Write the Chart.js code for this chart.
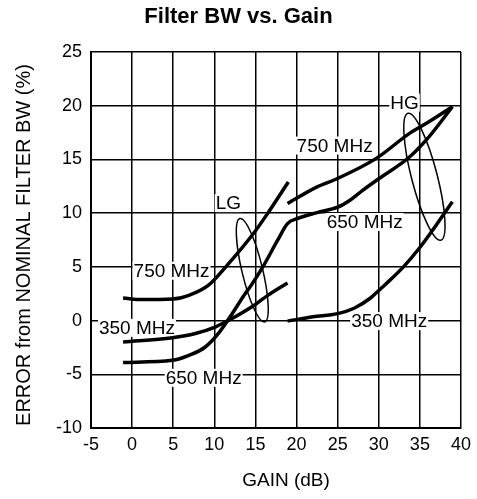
<!DOCTYPE html>
<html>
<head>
<meta charset="utf-8">
<script src="https://cdn.jsdelivr.net/npm/chart.js@4.4.0/dist/chart.umd.min.js"></script>
<style>
html,body{margin:0;padding:0;background:#fff;}
#c{display:block;}
</style>
</head>
<body>
<canvas id="c" width="477" height="499"></canvas>
<script>
// ---- data ----
const lg750X = [-1.1, 1.3, 4.9, 6.9, 9.3, 11.5, 14.9, 16.5, 19.0];
const lg750Y = [2.1, 1.95, 2.0, 2.35, 3.3, 5.1, 8.25, 10.0, 12.9];

const lg350X = [-1.1, 4.9, 7.7, 10.1, 11.7, 14.9, 16.5, 18.9];
const lg350Y = [-2.0, -1.6, -1.2, -0.6, 0.0, 1.45, 2.35, 3.5];

const bw650X = [-1.1, 4.9, 6.9, 8.9, 10.5, 11.9, 13.7, 14.5, 15.9, 17.7, 18.9, 20.1, 22.5, 25.0, 26.5, 28.0, 30.0, 33.7, 36.1, 38.95];
const bw650Y = [-3.9, -3.7, -3.24, -2.46, -1.2, 0.33, 2.45, 3.3, 5.0, 7.48, 9.03, 9.5, 10.05, 10.55, 11.2, 12.1, 13.2, 15.2, 17.1, 19.9];

const hg750X = [18.9, 22.5, 24.9, 29.7, 33.7, 36.1, 38.95];
const hg750Y = [10.9, 12.45, 13.2, 15.1, 17.4, 18.5, 19.9];

const hg350X = [18.9, 22.0, 25.0, 27.0, 29.0, 30.0, 31.0, 33.0, 35.0, 37.0, 38.95];
const hg350Y = [-0.05, 0.35, 0.65, 1.15, 2.1, 2.8, 3.5, 5.0, 6.8, 8.9, 11.05];

const xTicksMin = -5, xTicksMax = 40, xStep = 5;
const yTicksMin = -10, yTicksMax = 25, yStep = 5;

const xTitle = 'GAIN (dB)';
const yTitle = 'ERROR from NOMINAL FILTER BW (%)';

// annotation labels (data coordinates)
const noteText = ['LG', '750 MHz', '350 MHz', '650 MHz', 'HG', '750 MHz', '650 MHz', '350 MHz'];
const noteX    = [11.7, 4.8, 0.59, 8.7, 33.14, 24.63, 28.29, 31.27];
const noteY    = [10.93, 4.64, -0.68, -5.33, 20.29, 16.29, 9.18, -0.05];

// group ellipses: top end, bottom end (data), semi-minor in gain units
const ellTopX = [13.11, 33.55];
const ellTopY = [9.5, 19.29];
const ellBotX = [16.12, 37.55];
const ellBotY = [-0.13, 7.48];
const ellMinor = [1.26, 1.56];

function pts(xs, ys){ return xs.map((x,i)=>({x:x, y:ys[i]})); }

const FONT = "'Liberation Sans', Arial, Helvetica, sans-serif";

const notesPlugin = {
  id: 'notes',
  beforeDatasetsDraw(chart){
    const ctx = chart.ctx, xs = chart.scales.x, ys = chart.scales.y;
    ctx.save();
    ctx.font = '19px ' + FONT;
    ctx.textAlign = 'center';
    ctx.textBaseline = 'middle';
    noteText.forEach((t,i)=>{
      const px = xs.getPixelForValue(noteX[i]);
      const py = ys.getPixelForValue(noteY[i]);
      const w = ctx.measureText(t).width;
      ctx.fillStyle = '#fff';
      ctx.fillRect(px - w/2 - 1, py - 9, w + 2, 18);
      ctx.fillStyle = '#000';
      ctx.fillText(t, px, py + 1);
    });
    ctx.restore();
  },
  afterDatasetsDraw(chart){
    const ctx = chart.ctx, xs = chart.scales.x, ys = chart.scales.y;
    ctx.save();
    ctx.strokeStyle = '#000';
    ctx.lineWidth = 1.5;
    const pxPerX = Math.abs(xs.getPixelForValue(1) - xs.getPixelForValue(0));
    ellTopX.forEach((_,i)=>{
      const tx = xs.getPixelForValue(ellTopX[i]), ty = ys.getPixelForValue(ellTopY[i]);
      const bx = xs.getPixelForValue(ellBotX[i]), by = ys.getPixelForValue(ellBotY[i]);
      const cx = (tx+bx)/2, cy = (ty+by)/2;
      const a = Math.hypot(bx-tx, by-ty)/2;
      const rot = Math.atan2(by-ty, bx-tx);
      ctx.beginPath();
      ctx.ellipse(cx, cy, a, ellMinor[i]*pxPerX, rot, 0, Math.PI*2);
      ctx.stroke();
    });
    ctx.restore();
  },
  afterDraw(chart){
    const ctx = chart.ctx, ca = chart.chartArea;
    ctx.save();
    ctx.fillStyle = '#000';
    ctx.textAlign = 'center';
    ctx.textBaseline = 'middle';
    ctx.font = '19px ' + FONT;
    ctx.fillText(xTitle, (ca.left + ca.right)/2 + 10, chart.height - 18);
    ctx.translate(24, (ca.top + ca.bottom)/2 + 5);
    ctx.rotate(-Math.PI/2);
    ctx.font = '20px ' + FONT;
    ctx.fillText(yTitle, 0, 0);
    ctx.restore();
  }
};

const lineStyle = {
  borderColor: '#000',
  borderWidth: 3.5,
  pointRadius: 0,
  fill: false,
  cubicInterpolationMode: 'monotone',
  borderCapStyle: 'butt'
};

new Chart(document.getElementById('c'), {
  type: 'line',
  data: {
    datasets: [
      Object.assign({label: 'LG 750 MHz', data: pts(lg750X, lg750Y)}, lineStyle),
      Object.assign({label: 'LG 350 MHz', data: pts(lg350X, lg350Y)}, lineStyle),
      Object.assign({label: '650 MHz', data: pts(bw650X, bw650Y)}, lineStyle),
      Object.assign({label: 'HG 750 MHz', data: pts(hg750X, hg750Y)}, lineStyle),
      Object.assign({label: 'HG 350 MHz', data: pts(hg350X, hg350Y)}, lineStyle)
    ]
  },
  options: {
    responsive: false,
    devicePixelRatio: 1,
    animation: false,
    layout: { padding: { left: 0, right: 0, top: 0, bottom: 0 } },
    plugins: {
      legend: { display: false },
      tooltip: { enabled: false },
      title: {
        display: true,
        text: 'Filter BW vs. Gain',
        color: '#000',
        font: { family: FONT, size: 22, weight: 'bold', lineHeight: 1.2 },
        padding: { top: 4, bottom: 21.6 }
      }
    },
    scales: {
      x: {
        type: 'linear',
        min: xTicksMin, max: xTicksMax,
        ticks: { stepSize: xStep, color: '#000', font: { family: FONT, size: 18 }, padding: 6, maxRotation: 0 },
        grid: { color: '#000', lineWidth: 1.5, drawTicks: false },
        border: { color: '#000', width: 2 },
        title: { display: false },
        afterFit(s){ s.height = 71; }
      },
      y: {
        type: 'linear',
        min: yTicksMin, max: yTicksMax,
        ticks: { stepSize: yStep, color: '#000', font: { family: FONT, size: 18 }, padding: 9 },
        grid: { color: '#000', lineWidth: 1.5, drawTicks: false },
        border: { color: '#000', width: 2 },
        title: { display: false },
        afterFit(s){ s.width = 91; }
      }
    }
  },
  plugins: [notesPlugin]
});
</script>
</body>
</html>
